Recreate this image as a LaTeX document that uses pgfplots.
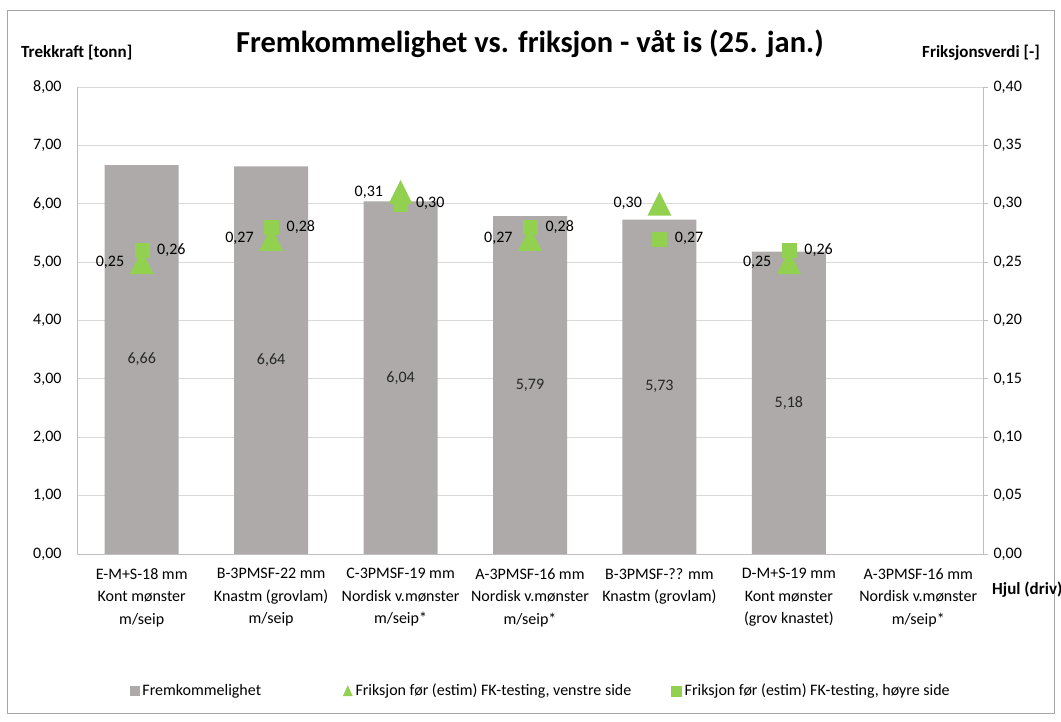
\documentclass[border=0pt]{standalone}
\usepackage{pgfplots}
\pgfplotsset{compat=1.18}
\usepackage{fontspec}
\setmainfont{Carlito}
\definecolor{bargray}{HTML}{AEAAAA}
\definecolor{mgreen}{HTML}{92D050}
\definecolor{axgray}{HTML}{BFBFBF}
\definecolor{gridgray}{HTML}{D9D9D9}
\definecolor{framegray}{HTML}{A6A6A6}
\pgfdeclareplotmark{xltri}{%
  \pgfpathmoveto{\pgfqpoint{0pt}{12pt}}%
  \pgfpathlineto{\pgfqpoint{12pt}{-12pt}}%
  \pgfpathlineto{\pgfqpoint{-12pt}{-12pt}}%
  \pgfpathclose\pgfusepathqfill}
\newcommand{\fs}{\fontsize{16}{22}\selectfont}
\pgfplotsset{
  /pgf/number format/.cd, use comma, fixed, fixed zerofill, precision=2,
  /pgf/number format/assume math mode=true,
}
\begin{document}
\begin{tikzpicture}[x=1pt,y=1pt]
\path[use as bounding box] (0,0) rectangle (1061,722);
\draw[framegray, line width=0.8pt, fill=white] (7,9) rectangle (1054,712);
\node[font=\bfseries\fontsize{30.5}{34}\selectfont] at (530,678) {Fremkommelighet vs. friksjon - våt is (25. jan.)};
\node[font=\bfseries\fontsize{17}{20}\selectfont, anchor=west, inner sep=0pt] at (21,669) {Trekkraft [tonn]};
\node[font=\bfseries\fontsize{17}{20}\selectfont, anchor=west, inner sep=0pt] at (922,669) {Friksjonsverdi [-]};
\node[font=\bfseries\fontsize{17}{20}\selectfont, anchor=west, inner sep=0pt] at (992,132) {Hjul (driv)};
\begin{axis}[
  at={(77pt,168pt)}, anchor=south west,
  scale only axis, width=906pt, height=467pt,
  xmin=-0.5, xmax=6.5, ymin=0, ymax=8,
  ytick={0,1,2,3,4,5,6,7,8},
  xtick={0,1,2,3,4,5,6},
  xticklabels={{E-M+S-18 mm\\Kont mønster\\m/seip},{B-3PMSF-22 mm\\Knastm (grovlam)\\m/seip},{C-3PMSF-19 mm\\Nordisk v.mønster\\m/seip*},{A-3PMSF-16 mm\\Nordisk v.mønster\\m/seip*},{B-3PMSF-?? mm\\Knastm (grovlam)},{D-M+S-19 mm\\Kont mønster\\(grov knastet)},{A-3PMSF-16 mm\\Nordisk v.mønster\\m/seip*}},
  xticklabel style={align=center, font=\fontsize{16}{22.5}\selectfont, yshift=-11pt},
  yticklabel style={font=\fs, xshift=-12pt},
  major tick length=0pt,
  ymajorgrids, grid style={gridgray, line width=0.8pt},
  axis line style={axgray, line width=0.8pt},
  axis x line*=bottom, axis y line*=left,
]
\addplot[ybar, bar width=74pt, fill=bargray, draw=none,
  visualization depends on=y \as \rawy,
  nodes near coords,
  every node near coord/.append style={font=\fs, text=black!85, anchor=center, shift={(axis direction cs:0,-\rawy/2)}},
] coordinates {(0,6.66) (1,6.64) (2,6.04) (3,5.79) (4,5.73) (5,5.18)};
\end{axis}
\begin{axis}[
  at={(77pt,168pt)}, anchor=south west,
  scale only axis, width=906pt, height=467pt,
  xmin=-0.5, xmax=6.5, ymin=0, ymax=0.4,
  ytick={0,0.05,0.10,0.15,0.20,0.25,0.30,0.35,0.40},
  axis y line*=right, axis x line=none,
  yticklabel style={font=\fs, xshift=2pt},
  ytick style={axgray, line width=0.8pt},
  tick align=outside, major tick length=5pt,
  axis line style={axgray, line width=0.8pt},
  clip=false,
  legend columns=3,
  legend style={at={(rel axis cs:0.512,-0.293)}, anchor=center, draw=none, fill=none, font=\fs,
    /tikz/every odd column/.append style={column sep=1pt},
    /tikz/column 2/.style={column sep=80pt},
    /tikz/column 4/.style={column sep=38pt}},
]
\addlegendimage{legend image code/.code={\fill[bargray] (0pt,-4.5pt) rectangle (9pt,4.5pt);}}
\addlegendentry{Fremkommelighet}
\addplot[only marks, mark=xltri, color=mgreen,
  nodes near coords,
  every node near coord/.append style={font=\fs, text=black, anchor=east, xshift=-14pt},
  legend image code/.code={\fill[mgreen] (0pt,-5pt) -- (9pt,-5pt) -- (4.5pt,5pt) -- cycle;},
] coordinates {(0,0.25) (1,0.27) (2,0.31) (3,0.27) (4,0.30) (5,0.25)};
\addlegendentry{Friksjon før (estim) FK-testing, venstre side}
\addplot[only marks, mark=square*, mark size=7pt, color=mgreen,
  nodes near coords,
  every node near coord/.append style={font=\fs, text=black, anchor=west, xshift=12pt},
  legend image code/.code={\fill[mgreen] (0pt,-5pt) rectangle (10pt,5pt);},
] coordinates {(0,0.26) (1,0.28) (2,0.30) (3,0.28) (4,0.27) (5,0.26)};
\addlegendentry{Friksjon før (estim) FK-testing, høyre side}
\end{axis}
\end{tikzpicture}
\end{document}
